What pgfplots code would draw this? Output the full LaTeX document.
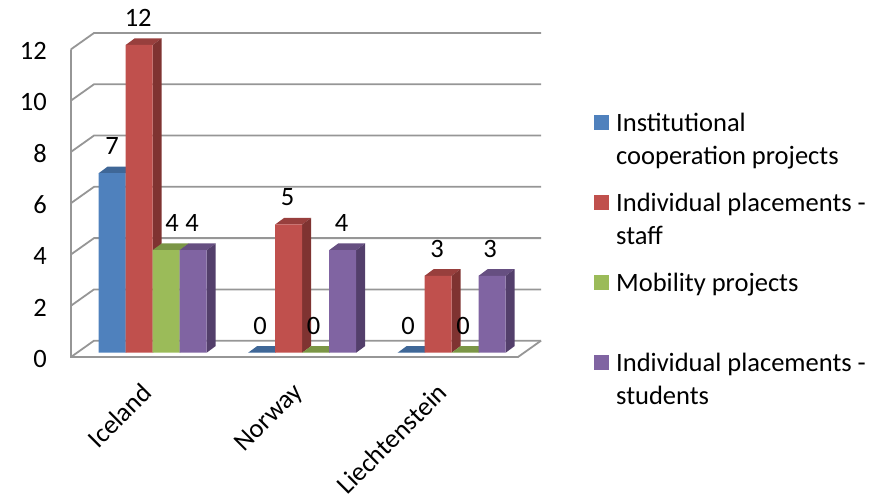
\documentclass[border=0pt]{standalone}
\usepackage{fontspec}
\setmainfont{Carlito}
\usepackage{pgfplots}
\usepackage{pgfplotstable}
\pgfplotsset{compat=1.18}
\definecolor{gridc}{HTML}{969696}
\definecolor{bluef}{HTML}{4F81BD}\definecolor{bluet}{HTML}{3F6797}\definecolor{blues}{HTML}{345578}
\definecolor{redf}{HTML}{C0504D}\definecolor{redt}{HTML}{983F3D}\definecolor{reds}{HTML}{7F3331}
\definecolor{greenf}{HTML}{9BBB59}\definecolor{greent}{HTML}{7B9646}\definecolor{greens}{HTML}{657A3A}
\definecolor{purplef}{HTML}{8064A2}\definecolor{purplet}{HTML}{664F81}\definecolor{purples}{HTML}{533F6B}
% x = bar centre in picture pixels, y = value, dx = label offset
\pgfplotstableread{
x y dx
112.2 7 0
261.7 0 -1.5
411.2 0 -3
}\tblue
\pgfplotstableread{
x y dx
139.2 12 -1
288.7 5 -1
438.2 3 -1
}\tred
\pgfplotstableread{
x y dx
166.2 4 6
315.7 0 -2
465.2 0 -2
}\tgreen
\pgfplotstableread{
x y dx
193.2 4 -1
342.7 4 -1
492.2 3 -2
}\tpurple
\newcommand\boxfaces[4]{% left edge, value, top colour, side colour
  \pgfmathsetmacro\xa{#1}\pgfmathsetmacro\xb{#1+27}\pgfmathsetmacro\xc{#1+9}\pgfmathsetmacro\xd{#1+36}
  \pgfmathsetmacro\yb{#2+0.26}
  \addplot[fill=#3,draw=none,forget plot] coordinates {(\xa,#2)(\xb,#2)(\xd,\yb)(\xc,\yb)} --cycle;
  \ifdim #2pt>0pt
  \addplot[fill=#4,draw=none,forget plot] coordinates {(\xb,0)(\xd,0.26)(\xd,\yb)(\xb,#2)} --cycle;
  \fi
}
\pgfplotsset{frontbar/.style={ybar,bar width=27pt,bar shift=0pt,draw=none,fill=#1,
  legend image code/.code={\fill[##1] (0pt,9pt) rectangle (15pt,24pt);},
  visualization depends on={\thisrow{dx}\as\dx},
  nodes near coords,
  nodes near coords style={font=\fontsize{26.5}{30}\selectfont,text=black,anchor=center,yshift=27pt,xshift=\dx pt}}}
\begin{document}
\begin{tikzpicture}[x=1pt,y=1pt]
\path[use as bounding box] (0,0) rectangle (881,495);
\begin{axis}[
  at={(71pt,138pt)},anchor=south west,
  width=447pt,height=312pt,scale only axis,
  xmin=71,xmax=518,ymin=-0.168,ymax=12,
  clip=false,
  axis line style={draw=none},
  tick style={draw=none},
  ytick={0,2,...,12},
  xtick={147,298,442},
  xticklabels={Iceland,Norway,Liechtenstein},
  x tick label style={rotate=45,anchor=north east,font=\fontsize{26.5}{30}\selectfont,inner sep=0pt,yshift=-12.7pt,xshift=-21.8pt},
  y tick label style={font=\fontsize{26.5}{30}\selectfont,yshift=-6pt,inner sep=0pt,xshift=-24pt},
  /pgf/number format/assume math mode=true,
  legend style={at={(1.17,0.789)},anchor=north west,draw=none,fill=none,inner sep=0pt,
    font=\fontsize{26.5}{33}\selectfont,
    cells={anchor=west,align=left},row sep=23pt,column sep=5pt},
]
% walls and floor
\addplot[gridc,line width=1.8pt,forget plot] coordinates {(71,11.832)(71,-0.168)(518,-0.168)(541,0.468)};
\addplot[gridc,line width=1.8pt,forget plot] coordinates {(71,-0.168)(94,0.468)(541,0.468)};
\addplot[gridc,line width=1.8pt,forget plot] coordinates {(71,1.832)(94,2.468)(541,2.468)};
\addplot[gridc,line width=1.8pt,forget plot] coordinates {(71,3.832)(94,4.468)(541,4.468)};
\addplot[gridc,line width=1.8pt,forget plot] coordinates {(71,5.832)(94,6.468)(541,6.468)};
\addplot[gridc,line width=1.8pt,forget plot] coordinates {(71,7.832)(94,8.468)(541,8.468)};
\addplot[gridc,line width=1.8pt,forget plot] coordinates {(71,9.832)(94,10.468)(541,10.468)};
\addplot[gridc,line width=1.8pt,forget plot] coordinates {(71,11.832)(94,12.468)(541,12.468)};
% blue
\boxfaces{98.7}{7}{bluet}{blues}\boxfaces{248.2}{0}{bluet}{blues}\boxfaces{397.7}{0}{bluet}{blues}
\addplot[frontbar=bluef] table {\tblue};
\addlegendentry{Institutional\\cooperation projects}
% red
\boxfaces{125.7}{12}{redt}{reds}\boxfaces{275.2}{5}{redt}{reds}\boxfaces{424.7}{3}{redt}{reds}
\addplot[frontbar=redf] table {\tred};
\addlegendentry{Individual placements -\\staff}
% green
\boxfaces{152.7}{4}{greent}{greens}\boxfaces{302.2}{0}{greent}{greens}\boxfaces{451.7}{0}{greent}{greens}
\addplot[frontbar=greenf] table {\tgreen};
\addlegendentry{Mobility projects\\\strut}
% purple
\boxfaces{179.7}{4}{purplet}{purples}\boxfaces{329.2}{4}{purplet}{purples}\boxfaces{478.7}{3}{purplet}{purples}
\addplot[frontbar=purplef] table {\tpurple};
\addlegendentry{Individual placements -\\students}
\end{axis}
\end{tikzpicture}
\end{document}
